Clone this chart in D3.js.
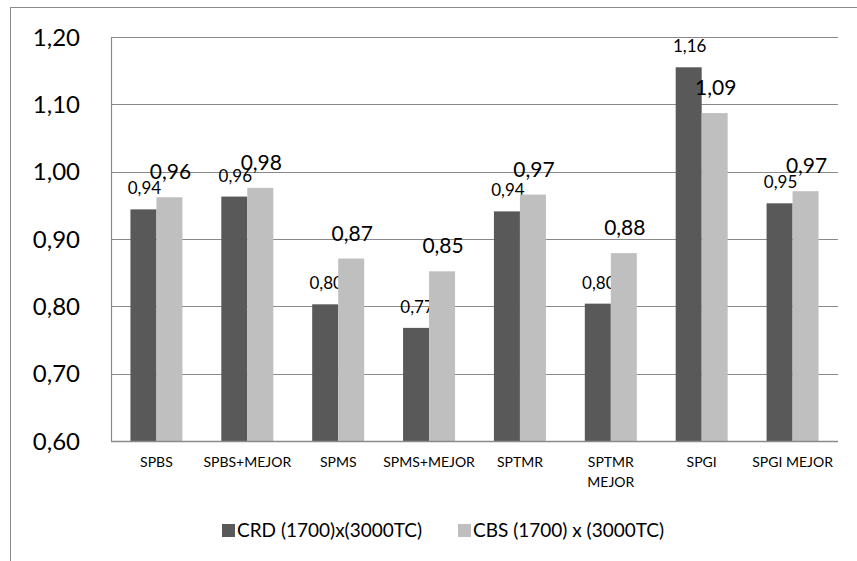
<!DOCTYPE html>
<html>
<head>
<meta charset="utf-8">
<script src="https://cdn.jsdelivr.net/npm/d3@7"></script>
<style>
  body { margin: 0; background: #fff; }
  text { font-family: Lato, "Open Sans", sans-serif; fill: #000; }
</style>
</head>
<body>
<div id="chart"></div>
<script>
var categories = ["SPBS", "SPBS+MEJOR", "SPMS", "SPMS+MEJOR", "SPTMR", "SPTMR MEJOR", "SPGI", "SPGI MEJOR"]
// how the category labels wrap
var categoryLines = [["SPBS"], ["SPBS+MEJOR"], ["SPMS"], ["SPMS+MEJOR"], ["SPTMR"], ["SPTMR", "MEJOR"], ["SPGI"], ["SPGI MEJOR"]]
var seriesNames = ["CRD (1700)x(3000TC)", "CBS (1700) x (3000TC)"]
var crd = [0.944, 0.963, 0.803, 0.768, 0.941, 0.804, 1.155, 0.953]
var cbs = [0.962, 0.976, 0.871, 0.852, 0.966, 0.879, 1.087, 0.971]
var yTicks = [0.6, 0.7, 0.8, 0.9, 1.0, 1.1, 1.2]
var colors = ["#595959", "#bfbfbf"]

var svg = d3.select("#chart")
  .append("svg")
  .attr("width", 857)
  .attr("height", 561)

// outer chart border
svg.append("rect")
  .attr("x", 10.5)
  .attr("y", 7.5)
  .attr("width", 900)
  .attr("height", 600)
  .style("fill", "none")
  .style("stroke", "#8c8c8c")
  .style("stroke-width", 1)

var y = d3.scaleLinear().domain([0.6, 1.2]).range([441, 37])
var x = d3.scaleBand().domain(categories).range([111, 838])
var x1 = d3.scaleBand().domain([0, 1]).range([0, 52])
var offset = (x.bandwidth() - 52) / 2

// gridlines
svg.append("g")
  .selectAll("line")
  .data(yTicks.slice(1))
  .join("line")
  .attr("x1", 111)
  .attr("x2", 838)
  .attr("y1", d => Math.round(y(d)) + 0.5)
  .attr("y2", d => Math.round(y(d)) + 0.5)
  .style("stroke", "#8a8a8a")
  .style("stroke-width", 1.2)

// y labels
svg.append("g")
  .selectAll("text")
  .data(yTicks)
  .join("text")
  .attr("x", 80)
  .attr("y", d => y(d))
  .attr("dy", "0.36em")
  .attr("text-anchor", "end")
  .style("font-size", "24px")
  .text(d => d3.format(".2f")(d).replace(".", ","))

// left plot edge
svg.append("line")
  .attr("x1", 111.5).attr("x2", 111.5)
  .attr("y1", y(1.2)).attr("y2", y(0.6))
  .style("stroke", "#8a8a8a")
  .style("stroke-width", 1.2)

var series = [crd, cbs]
series.forEach((vals, s) => {
  svg.append("g")
    .selectAll("rect")
    .data(vals)
    .join("rect")
    .attr("x", (d, i) => x(categories[i]) + offset + x1(s))
    .attr("y", d => y(d))
    .attr("width", x1.bandwidth())
    .attr("height", d => y(0.6) - y(d))
    .style("fill", colors[s])

  // value labels; the CBS ones come out larger
  svg.append("g")
    .selectAll("text")
    .data(vals)
    .join("text")
    .attr("x", (d, i) => x(categories[i]) + offset + x1(s) + x1.bandwidth() / 2 + 1)
    .attr("y", d => y(d) - (s == 0 ? 15 : 18))
    .attr("text-anchor", "middle")
    .style("font-size", s == 0 ? "17px" : "21px")
    .text(d => d3.format(".2f")(d).replace(".", ","))
})

// bottom axis line
svg.append("line")
  .attr("x1", 111).attr("x2", 838)
  .attr("y1", 441.5).attr("y2", 441.5)
  .style("stroke", "#8a8a8a")
  .style("stroke-width", 1.5)

// category labels
var cat = svg.append("g")
  .selectAll("text")
  .data(categories)
  .join("text")
  .attr("x", d => x(d) + x.bandwidth() / 2)
  .attr("y", 467)
  .attr("text-anchor", "middle")
  .style("font-size", "14px")

cat.selectAll("tspan")
  .data((d, i) => categoryLines[i])
  .join("tspan")
  .attr("x", function() { return d3.select(this.parentNode).attr("x") })
  .attr("dy", (d, i) => i == 0 ? 0 : 20)
  .text(d => d)

// legend
var legendX = [222, 458]
seriesNames.forEach((name, s) => {
  svg.append("rect")
    .attr("x", legendX[s])
    .attr("y", 524)
    .attr("width", 13)
    .attr("height", 13)
    .style("fill", colors[s])
  svg.append("text")
    .attr("x", legendX[s] + 15)
    .attr("y", 530.5)
    .attr("dy", "0.36em")
    .style("font-size", "19px")
    .text(name)
})
</script>
</body>
</html>
